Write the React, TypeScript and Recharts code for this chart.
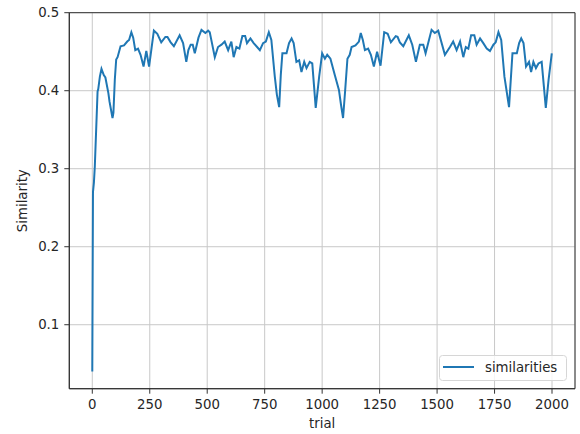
import React from "react";
import {
  LineChart,
  Line,
  XAxis,
  YAxis,
  CartesianGrid,
  ReferenceArea,
  Legend,
} from "recharts";

const trials = [
  0, 3, 7, 11, 23, 26, 33, 40, 50, 57, 70, 75, 88, 92, 98, 104, 110, 123, 138, 152,
  160, 170, 178, 187, 199, 210, 223, 235, 247, 258, 268, 283, 300, 318, 327, 341,
  355, 380, 395, 409, 418, 428, 437, 446, 462, 475, 492, 504, 511, 520, 533, 547,
  562, 576, 591, 605, 615, 627, 640, 653, 665, 673, 688, 702, 717, 729, 743, 755,
  768, 779, 794, 803, 813, 820, 827, 845, 856, 867, 876, 888, 900, 910, 922, 932,
  946, 957, 965, 972, 987, 1000, 1012, 1022, 1036, 1055, 1073, 1082, 1091, 1100,
  1110, 1120, 1128, 1145, 1160, 1168, 1177, 1186, 1200, 1212, 1225, 1239, 1254,
  1270, 1285, 1299, 1320, 1328, 1338, 1353, 1377, 1392, 1408, 1425, 1440, 1450,
  1476, 1490, 1505, 1534, 1556, 1570, 1585, 1600, 1614, 1625, 1636, 1648, 1662,
  1672, 1687, 1701, 1716, 1730, 1745, 1755, 1767, 1779, 1793, 1813, 1828, 1847,
  1857, 1866, 1876, 1887, 1900, 1909, 1919, 1930, 1941, 1955, 1973, 1985, 1999,
];

const similarities = [
  0.04, 0.27, 0.282, 0.303, 0.399, 0.402, 0.418, 0.428, 0.42, 0.417, 0.397, 0.386,
  0.365, 0.372, 0.414, 0.44, 0.443, 0.457, 0.458, 0.463, 0.465, 0.475, 0.468, 0.452,
  0.454, 0.446, 0.431, 0.451, 0.431, 0.455, 0.477, 0.473, 0.462, 0.469, 0.469, 0.462,
  0.457, 0.471, 0.461, 0.437, 0.452, 0.459, 0.459, 0.448, 0.468, 0.478, 0.474, 0.477,
  0.475, 0.462, 0.443, 0.456, 0.459, 0.463, 0.452, 0.463, 0.443, 0.456, 0.454, 0.47,
  0.47, 0.461, 0.467, 0.461, 0.456, 0.452, 0.461, 0.463, 0.475, 0.465, 0.418, 0.395,
  0.379, 0.42, 0.448, 0.448, 0.461, 0.467, 0.461, 0.437, 0.439, 0.424, 0.437, 0.429,
  0.437, 0.435, 0.405, 0.378, 0.418, 0.448, 0.441, 0.446, 0.441, 0.42, 0.401, 0.382,
  0.365, 0.4, 0.441, 0.446, 0.456, 0.458, 0.463, 0.474, 0.465, 0.452, 0.454, 0.446,
  0.431, 0.45, 0.432, 0.475, 0.473, 0.462, 0.47, 0.469, 0.462, 0.457, 0.471, 0.459,
  0.437, 0.459, 0.459, 0.448, 0.478, 0.474, 0.477, 0.446, 0.456, 0.463, 0.452, 0.463,
  0.443, 0.456, 0.454, 0.471, 0.471, 0.459, 0.467, 0.461, 0.454, 0.451, 0.459, 0.462,
  0.475, 0.465, 0.418, 0.379, 0.448, 0.448, 0.461, 0.467, 0.461, 0.431, 0.437, 0.424,
  0.437, 0.429, 0.435, 0.437, 0.378, 0.414, 0.448,
];

const xTicks = [0, 250, 500, 750, 1000, 1250, 1500, 1750, 2000];
const yTicks = [0.1, 0.2, 0.3, 0.4, 0.5];
const xDomain = [-100, 2100];
const yDomain = [0.018, 0.5];
const seriesName = "similarities";
const xLabel = "trial";
const yLabel = "Similarity";

const data = trials.map((t, i) => ({ trial: t, similarities: similarities[i] }));

const FONT = "'DejaVu Sans', sans-serif";
const TEXT = "#262626";
const LINE = "#1f77b4";

const renderLegend = () => (
  <svg width={128} height={26} style={{ display: "block" }}>
    <rect
      x={0.5}
      y={0.5}
      width={127}
      height={25}
      rx={3}
      ry={3}
      fill="rgba(255,255,255,0.8)"
      stroke="#d6d6d6"
      strokeWidth={1}
    />
    <line x1={4} x2={35} y1={12} y2={12} stroke={LINE} strokeWidth={2} />
    <text
      x={46}
      y={12}
      dominantBaseline="central"
      fontFamily={FONT}
      fontSize={13.3}
      fill={TEXT}
    >
      {seriesName}
    </text>
  </svg>
);

const YLabel = (props: any) => {
  const vb = props.viewBox || {};
  const cx = 27.3;
  const cy = vb.y + vb.height / 2;
  return (
    <text
      x={cx}
      y={cy}
      transform={`rotate(-90 ${cx} ${cy})`}
      textAnchor="middle"
      fontFamily={FONT}
      fontSize={13.3}
      fill={TEXT}
    >
      {yLabel}
    </text>
  );
};

export default function App() {
  return (
    <div style={{ position: "absolute", left: 0, top: 0, width: 580, height: 434, background: "#fff" }}>
      <LineChart
        width={580}
        height={434}
        data={data}
        margin={{ top: 12.7, right: 5, left: 0, bottom: 0 }}
      >
        <CartesianGrid stroke="#c8c8c8" strokeWidth={1} />
        <XAxis
          dataKey="trial"
          type="number"
          domain={xDomain}
          ticks={xTicks}
          allowDataOverflow
          height={45.3}
          tickSize={5}
          tickMargin={6}
          stroke="#333"
          tick={{ fill: TEXT, fontSize: 13.3, fontFamily: FONT }}
          tickLine={{ stroke: "#333" }}
          axisLine={{ stroke: "#333" }}
          label={{
            value: xLabel,
            position: "insideBottom",
            offset: 6,
            fill: TEXT,
            fontSize: 13.3,
            fontFamily: FONT,
          }}
        />
        <YAxis
          type="number"
          domain={yDomain}
          ticks={yTicks}
          allowDataOverflow
          width={69.3}
          tickSize={5}
          tickMargin={5}
          stroke="#333"
          tickFormatter={(v: number) => v.toFixed(1)}
          tick={{ fill: TEXT, fontSize: 13.3, fontFamily: FONT }}
          tickLine={{ stroke: "#333" }}
          axisLine={{ stroke: "#333" }}
          label={<YLabel />}
        />
        <ReferenceArea
          x1={xDomain[0]}
          x2={xDomain[1]}
          y1={yDomain[0]}
          y2={yDomain[1]}
          fill="none"
          stroke="#333"
          strokeWidth={1}
          ifOverflow="visible"
        />
        <Line
          type="linear"
          dataKey="similarities"
          name={seriesName}
          stroke={LINE}
          strokeWidth={2}
          dot={false}
          isAnimationActive={false}
        />
        <Legend
          layout="horizontal"
          verticalAlign="middle"
          align="center"
          content={renderLegend}
          wrapperStyle={{ left: 439, top: 355, width: 128, height: 26 }}
        />
      </LineChart>
    </div>
  );
}
